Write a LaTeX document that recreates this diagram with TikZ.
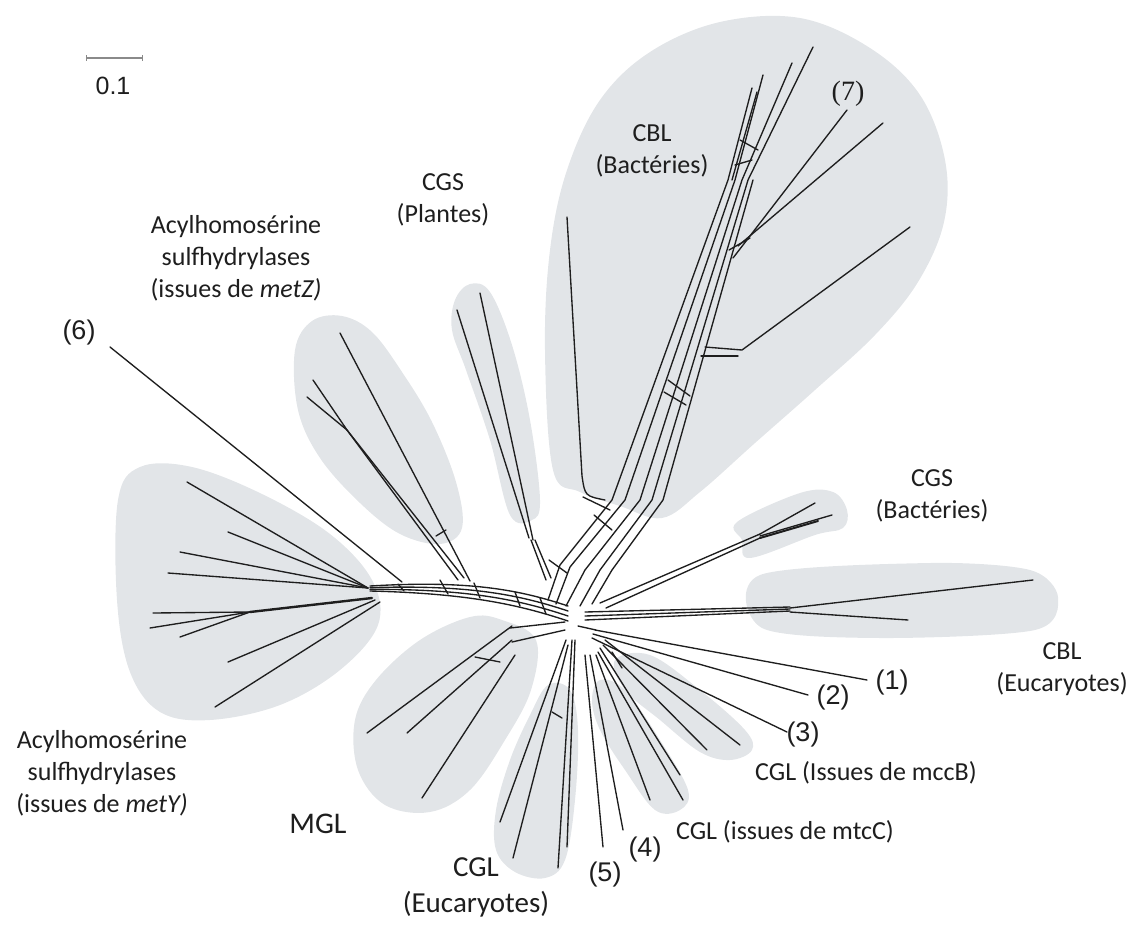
\documentclass[tikz,border=0pt]{standalone}
\usepackage{fontspec}
\setmainfont{Carlito}
\newfontfamily\numfont{Liberation Sans}
\newfontfamily\serfont{Liberation Serif}
\usepackage{xcolor}
\usepackage{tikz}
\definecolor{blob}{HTML}{E2E5E8}
\definecolor{ink}{HTML}{1E1E1E}
\definecolor{bar}{HTML}{8A8A8A}
\tikzset{
  blobfill/.style={fill=blob, draw=none},
  edge/.style={draw=ink, line width=1.35pt, line cap=round, line join=round},
  lab/.style={text=ink, font=\fontsize{26}{32}\selectfont, align=center, inner sep=0pt},
  labbig/.style={text=ink, font=\fontsize{29}{36}\selectfont, align=center, inner sep=0pt},
  num/.style={text=ink, font=\numfont\fontsize{27}{32}\selectfont, inner sep=0pt}
}
\begin{document}
\begin{tikzpicture}[x=1pt,y=-1pt]
  \useasboundingbox (0,0) rectangle (1133,943);

  % clade shading
  \fill[blobfill] plot[smooth cycle, tension=0.6] coordinates {(553,470) (545,350) (550,250) (567,170) (600,100) (650,52) (720,22) (800,18) (870,48) (920,95) (945,160) (944,222) (918,282) (875,335) (815,390) (755,443) (700,492) (662,518) (620,506) (580,492)};
  \fill[blobfill] plot[smooth cycle, tension=0.6] coordinates {(455,300) (470,284) (490,292) (512,345) (530,420) (540,500) (532,520) (510,515) (490,440) (466,370) (452,330)};
  \fill[blobfill] plot[smooth cycle, tension=0.6] coordinates {(295,350) (312,321) (342,316) (372,332) (402,372) (432,422) (456,482) (462,528) (440,544) (400,534) (360,503) (320,458) (298,410)};
  \fill[blobfill] plot[smooth cycle, tension=0.6] coordinates {(118,500) (140,467) (192,467) (262,494) (330,534) (372,580) (378,625) (340,670) (280,705) (210,720) (160,712) (130,672) (117,600)};
  \fill[blobfill] plot[smooth cycle, tension=0.6] coordinates {(470,617) (502,620) (536,640) (531,690) (505,740) (470,790) (430,812) (385,805) (358,770) (355,720) (376,680) (420,640)};
  \fill[blobfill] plot[smooth cycle, tension=0.6] coordinates {(548,685) (570,690) (578,730) (575,800) (565,860) (545,878) (515,872) (496,850) (496,810) (510,760) (530,715)};
  \fill[blobfill] plot[smooth cycle, tension=0.6] coordinates {(600,680) (625,690) (660,740) (688,790) (680,810) (655,810) (625,770) (600,730) (592,700)};
  \fill[blobfill] plot[smooth cycle, tension=0.6] coordinates {(615,660) (650,655) (700,690) (745,730) (752,750) (730,760) (700,752) (660,720) (625,690)};
  \fill[blobfill] plot[smooth cycle, tension=0.6] coordinates {(737,522) (800,493) (833,492) (847,510) (843,528) (815,535) (750,558) (742,540)};
  \fill[blobfill] plot[smooth cycle, tension=0.5] coordinates {(760,575) (930,563) (1030,570) (1058,597) (1035,630) (880,638) (762,628)};

  % scale bar
  \draw[draw=bar, line width=1.2pt] (86,58) -- (142,58);
  \draw[draw=bar, line width=1pt] (86,55) -- (86,61) (142,55) -- (142,61);
  \node[num, font=\numfont\fontsize{25}{30}\selectfont] (scale) at (113,86) {0.1};

  % left trunk towards metY
  \foreach \d in {0,5,10,15}
    \draw[edge] (568,606+\d) .. controls (520,590+\d) and (470,580+\d*0.9) .. (370,586+\d/3);
  \draw[edge] (398,584) -- (404,591);
  \draw[edge] (440,580) -- (448,594);
  \draw[edge] (474,583) -- (480,598);
  \draw[edge] (515,592) -- (520,606);
  \draw[edge] (540,598) -- (546,614);

  % metY leaves
  \foreach \e in {(187,482),(228,532),(180,552),(168,573)}
    \draw[edge] (368,588) -- \e;
  \draw[edge, line width=2.4pt] (372,598) -- (250,612);
  \foreach \e in {(153,613),(150,628),(180,637)}
    \draw[edge] (250,612) -- \e;
  \draw[edge] (375,600) -- (228,662);
  \draw[edge] (380,602) -- (215,707);

  % leaf (6)
  \draw[edge] (110,347) -- (402,582);

  % metZ leaves
  \coordinate (Za) at (347,430);
  \draw[edge] (340,333) -- (470,581);
  \draw[edge] (313,380) -- (Za);
  \draw[edge] (307,397) -- (Za);
  \draw[edge] (Za) -- (458,580);
  \draw[edge] (Za) -- (464,578);
  \draw[edge] (436,536) -- (446,530);

  % CGS plantes
  \draw[edge] (480,293) -- (533,540);
  \draw[edge] (457,310) -- (529,538);
  \draw[edge] (531,540) -- (546,580);
  \draw[edge] (535,540) -- (551,578);

  % CBL bacteries trunk
  \draw[edge] (548,600) -- (560,565) -- (612,500) -- (728,180) -- (752,88);
  \draw[edge] (556,604) -- (570,567) -- (625,500) -- (735,180) -- (763,75);
  \draw[edge] (566,606) -- (585,570) -- (640,500) -- (742,180) -- (792,63);
  \draw[edge] (580,606) -- (600,570) -- (652,500) -- (748,180) -- (813,47);
  \draw[edge] (592,604) -- (612,570) -- (663,500) -- (753,180);
  \draw[edge] (732,180) -- (757,92);
  \draw[edge] (567,217) -- (582,476) .. controls (585,496) .. (605,500);
  \draw[edge] (668,380) -- (690,396);
  \draw[edge] (664,392) -- (686,405);
  \draw[edge] (583,497) -- (610,510);
  \draw[edge] (594,515) -- (612,530);
  \draw[edge] (549,560) -- (567,573);
  \draw[edge] (740,140) -- (758,150);
  \draw[edge] (735,165) -- (752,160);
  \draw[edge] (729,250) -- (750,238);
  \draw[edge] (705,347) -- (742,350) -- (910,227);
  \draw[edge] (701,356) -- (738,356);
  \draw[edge] (733,258) -- (847,110);
  \draw[edge] (738,246) -- (883,123);

  % CGS bacteries
  \draw[edge] (600,603) -- (760,534);
  \draw[edge] (606,608) -- (760,538);
  \draw[edge] (760,534) -- (815,503);
  \draw[edge] (760,536) -- (832,515);
  \draw[edge, line width=2pt] (760,538) -- (818,521);

  % CBL eucaryotes
  \foreach \d in {0,4,8}
    \draw[edge] (585,612+\d) -- (790,607+\d/2);
  \draw[edge] (790,608) -- (1033,580);
  \draw[edge] (790,612) -- (908,620);

  % right side leaves
  \draw[edge] (595,630) -- (867,680);
  \draw[edge] (593,634) -- (808,695);
  \draw[edge] (592,638) -- (787,732);
  \draw[edge] (605,640) -- (740,745);
  \draw[edge] (603,645) -- (707,750);
  \draw[edge] (600,648) -- (680,775);
  \draw[edge] (598,652) -- (683,800);
  \draw[edge] (596,655) -- (650,800);
  \draw[edge] (590,655) -- (623,830);
  \draw[edge] (585,655) -- (603,847);
  \draw[edge] (612,652) -- (622,668);
  \draw[edge] (578,626) -- (596,630);

  % CGL eucaryotes
  \draw[edge] (575,640) -- (567,847);
  \draw[edge] (572,640) -- (558,868);
  \draw[edge] (568,645) -- (513,858);
  \draw[edge] (566,640) -- (500,822);
  \draw[edge] (552,712) -- (562,718);

  % MGL
  \draw[edge] (565,622) -- (510,628);
  \draw[edge] (565,630) -- (512,642);
  \draw[edge] (512,626) -- (367,733);
  \draw[edge] (512,640) -- (407,733);
  \draw[edge] (515,655) -- (422,798);
  \draw[edge] (475,657) -- (500,662);

  % labels
  \node[lab] (metz) at (236,258) {Acylhomosérine\\sulfhydrylases\\(issues de \textit{metZ)}};
  \node[lab] (mety) at (102,773) {Acylhomosérine\\sulfhydrylases\\(issues de \textit{metY)}};
  \node[lab] (cgsp) at (443,200) {CGS\\(Plantes)};
  \node[lab] (cblb) at (652,151) {CBL\\(Bactéries)};
  \node[lab] (cgsb) at (932,496) {CGS\\(Bactéries)};
  \node[lab] (cble) at (1062,669) {CBL\\(Eucaryotes)};
  \node[lab] (mccb) at (866,773) {CGL (Issues de mccB)};
  \node[lab] (mtcc) at (785,832) {CGL (issues de mtcC)};
  \node[labbig, font=\fontsize{30}{36}\selectfont] (mgl) at (318,824) {MGL};
  \node[labbig] (cgle) at (476,887) {CGL\\(Eucaryotes)};
  \node[num] (n1) at (892,683) {(1)};
  \node[num] (n2) at (833,698) {(2)};
  \node[num] (n3) at (803,735) {(3)};
  \node[num] (n4) at (645,850) {(4)};
  \node[num] (n5) at (605,875) {(5)};
  \node[num] (n6) at (79,333) {(6)};
  \node[num, font=\serfont\fontsize{28}{32}\selectfont] (n7) at (848,94) {(7)};
\end{tikzpicture}
\end{document}
